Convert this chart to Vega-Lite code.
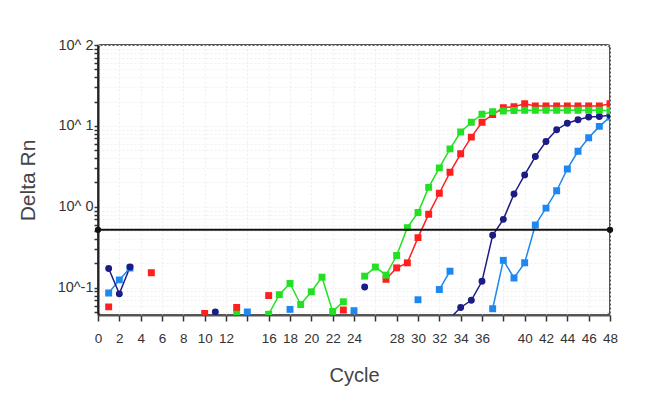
{
  "$schema": "https://vega.github.io/schema/vega-lite/v6.json",
  "width": 512,
  "height": 270,
  "autosize": {"type": "none"},
  "padding": {"left": 98, "top": 45, "right": 40, "bottom": 83},
  "config": {
    "font": "Liberation Sans",
    "view": {"stroke": "#555555", "strokeWidth": 2, "cornerRadius": 3}
  },
  "datasets": {
    "pts": [
      {"series": "lb", "seg": "L1", "cycle": 1, "rn": 0.086},
      {"series": "lb", "seg": "L1", "cycle": 2, "rn": 0.125},
      {"series": "lb", "seg": "L1", "cycle": 3, "rn": 0.175},
      {"series": "lb", "seg": "L2", "cycle": 14, "rn": 0.05},
      {"series": "lb", "seg": "L3", "cycle": 18, "rn": 0.054},
      {"series": "lb", "seg": "L4", "cycle": 24, "rn": 0.052},
      {"series": "lb", "seg": "L5", "cycle": 30, "rn": 0.071},
      {"series": "lb", "seg": "L6", "cycle": 32, "rn": 0.095},
      {"series": "lb", "seg": "L6", "cycle": 33, "rn": 0.16},
      {"series": "lb", "seg": "L7", "cycle": 37, "rn": 0.055},
      {"series": "lb", "seg": "L7", "cycle": 38, "rn": 0.218},
      {"series": "lb", "seg": "L7", "cycle": 39, "rn": 0.132},
      {"series": "lb", "seg": "L7", "cycle": 40, "rn": 0.203},
      {"series": "lb", "seg": "L7", "cycle": 41, "rn": 0.597},
      {"series": "lb", "seg": "L7", "cycle": 42, "rn": 0.963},
      {"series": "lb", "seg": "L7", "cycle": 43, "rn": 1.58},
      {"series": "lb", "seg": "L7", "cycle": 44, "rn": 2.94},
      {"series": "lb", "seg": "L7", "cycle": 45, "rn": 4.86},
      {"series": "lb", "seg": "L7", "cycle": 46, "rn": 7.13},
      {"series": "lb", "seg": "L7", "cycle": 47, "rn": 9.86},
      {"series": "lb", "seg": "L7", "cycle": 48, "rn": 12.9},
      {"series": "navy", "seg": "N1", "cycle": 1, "rn": 0.173},
      {"series": "navy", "seg": "N1", "cycle": 2, "rn": 0.084},
      {"series": "navy", "seg": "N1", "cycle": 3, "rn": 0.18},
      {"series": "navy", "seg": "N2", "cycle": 11, "rn": 0.05},
      {"series": "navy", "seg": "N3", "cycle": 25, "rn": 0.102},
      {"series": "navy", "seg": "N4", "cycle": 33, "rn": 0.042},
      {"series": "navy", "seg": "N4", "cycle": 34, "rn": 0.057},
      {"series": "navy", "seg": "N4", "cycle": 35, "rn": 0.07},
      {"series": "navy", "seg": "N4", "cycle": 36, "rn": 0.12},
      {"series": "navy", "seg": "N4", "cycle": 37, "rn": 0.445},
      {"series": "navy", "seg": "N4", "cycle": 38, "rn": 0.7},
      {"series": "navy", "seg": "N4", "cycle": 39, "rn": 1.44},
      {"series": "navy", "seg": "N4", "cycle": 40, "rn": 2.48},
      {"series": "navy", "seg": "N4", "cycle": 41, "rn": 4.18},
      {"series": "navy", "seg": "N4", "cycle": 42, "rn": 6.42},
      {"series": "navy", "seg": "N4", "cycle": 43, "rn": 8.97},
      {"series": "navy", "seg": "N4", "cycle": 44, "rn": 10.8},
      {"series": "navy", "seg": "N4", "cycle": 45, "rn": 11.9},
      {"series": "navy", "seg": "N4", "cycle": 46, "rn": 12.9},
      {"series": "navy", "seg": "N4", "cycle": 47, "rn": 13.1},
      {"series": "navy", "seg": "N4", "cycle": 48, "rn": 13.5},
      {"series": "red", "seg": "R1", "cycle": 1, "rn": 0.058},
      {"series": "red", "seg": "R2", "cycle": 5, "rn": 0.153},
      {"series": "red", "seg": "R3", "cycle": 10, "rn": 0.048},
      {"series": "red", "seg": "R4", "cycle": 13, "rn": 0.057},
      {"series": "red", "seg": "R5", "cycle": 16, "rn": 0.08},
      {"series": "red", "seg": "R6", "cycle": 23, "rn": 0.053},
      {"series": "red", "seg": "R7", "cycle": 27, "rn": 0.127},
      {"series": "red", "seg": "R7", "cycle": 28, "rn": 0.176},
      {"series": "red", "seg": "R7", "cycle": 29, "rn": 0.203},
      {"series": "red", "seg": "R7", "cycle": 30, "rn": 0.416},
      {"series": "red", "seg": "R7", "cycle": 31, "rn": 0.811},
      {"series": "red", "seg": "R7", "cycle": 32, "rn": 1.47},
      {"series": "red", "seg": "R7", "cycle": 33, "rn": 2.67},
      {"series": "red", "seg": "R7", "cycle": 34, "rn": 4.52},
      {"series": "red", "seg": "R7", "cycle": 35, "rn": 7.26},
      {"series": "red", "seg": "R7", "cycle": 36, "rn": 11.1},
      {"series": "red", "seg": "R7", "cycle": 37, "rn": 13.8},
      {"series": "red", "seg": "R7", "cycle": 38, "rn": 16.8},
      {"series": "red", "seg": "R7", "cycle": 39, "rn": 17.3},
      {"series": "red", "seg": "R7", "cycle": 40, "rn": 18.8},
      {"series": "red", "seg": "R7", "cycle": 41, "rn": 17.6},
      {"series": "red", "seg": "R7", "cycle": 42, "rn": 17.6},
      {"series": "red", "seg": "R7", "cycle": 43, "rn": 17.6},
      {"series": "red", "seg": "R7", "cycle": 44, "rn": 17.6},
      {"series": "red", "seg": "R7", "cycle": 45, "rn": 17.6},
      {"series": "red", "seg": "R7", "cycle": 46, "rn": 17.6},
      {"series": "red", "seg": "R7", "cycle": 47, "rn": 17.6},
      {"series": "red", "seg": "R7", "cycle": 48, "rn": 18.8},
      {"series": "green", "seg": "G1", "cycle": 13, "rn": 0.047},
      {"series": "green", "seg": "G2", "cycle": 16, "rn": 0.047},
      {"series": "green", "seg": "G2", "cycle": 17, "rn": 0.082},
      {"series": "green", "seg": "G2", "cycle": 18, "rn": 0.113},
      {"series": "green", "seg": "G2", "cycle": 19, "rn": 0.062},
      {"series": "green", "seg": "G2", "cycle": 20, "rn": 0.089},
      {"series": "green", "seg": "G2", "cycle": 21, "rn": 0.135},
      {"series": "green", "seg": "G2", "cycle": 22, "rn": 0.051},
      {"series": "green", "seg": "G2", "cycle": 23, "rn": 0.067},
      {"series": "green", "seg": "G3", "cycle": 25, "rn": 0.139},
      {"series": "green", "seg": "G3", "cycle": 26, "rn": 0.18},
      {"series": "green", "seg": "G3", "cycle": 27, "rn": 0.143},
      {"series": "green", "seg": "G3", "cycle": 28, "rn": 0.25},
      {"series": "green", "seg": "G3", "cycle": 29, "rn": 0.553},
      {"series": "green", "seg": "G3", "cycle": 30, "rn": 0.85},
      {"series": "green", "seg": "G3", "cycle": 31, "rn": 1.74},
      {"series": "green", "seg": "G3", "cycle": 32, "rn": 3.03},
      {"series": "green", "seg": "G3", "cycle": 33, "rn": 5.2},
      {"series": "green", "seg": "G3", "cycle": 34, "rn": 8.4},
      {"series": "green", "seg": "G3", "cycle": 35, "rn": 11.1},
      {"series": "green", "seg": "G3", "cycle": 36, "rn": 13.9},
      {"series": "green", "seg": "G3", "cycle": 37, "rn": 15.0},
      {"series": "green", "seg": "G3", "cycle": 38, "rn": 15.3},
      {"series": "green", "seg": "G3", "cycle": 39, "rn": 15.5},
      {"series": "green", "seg": "G3", "cycle": 40, "rn": 15.6},
      {"series": "green", "seg": "G3", "cycle": 41, "rn": 15.6},
      {"series": "green", "seg": "G3", "cycle": 42, "rn": 15.6},
      {"series": "green", "seg": "G3", "cycle": 43, "rn": 15.6},
      {"series": "green", "seg": "G3", "cycle": 44, "rn": 15.6},
      {"series": "green", "seg": "G3", "cycle": 45, "rn": 15.6},
      {"series": "green", "seg": "G3", "cycle": 46, "rn": 15.6},
      {"series": "green", "seg": "G3", "cycle": 47, "rn": 15.6},
      {"series": "green", "seg": "G3", "cycle": 48, "rn": 15.4}
    ],
    "thr": [
      {"cycle": 0, "rn": 0.52},
      {"cycle": 48, "rn": 0.52}
    ]
  },
  "encoding": {
    "x": {
      "field": "cycle", "type": "quantitative",
      "scale": {"domain": [0, 48], "nice": false, "zero": false},
      "axis": {
        "values": [0,2,4,6,8,10,12,14,16,18,20,22,24,26,28,30,32,34,36,38,40,42,44,46,48],
        "labelExpr": "indexof([14,26,38], datum.value) >= 0 ? '' : datum.label",
        "title": "Cycle",
        "titleFontSize": 20, "titleFontWeight": "normal", "titleColor": "#444444",
        "titleY": 60, "titleBaseline": "middle",
        "labelFontSize": 13.5, "labelColor": "#333333", "labelPadding": 10,
        "labelFlush": false, "labelOverlap": false,
        "tickColor": "#333333", "tickSize": 6, "tickWidth": 1.5,
        "domainColor": "#555555", "domainWidth": 2,
        "grid": true, "gridColor": "#ececec", "gridDash": [2, 2]
      }
    },
    "y": {
      "field": "rn", "type": "quantitative",
      "scale": {"type": "log", "domain": [0.046, 100], "nice": false},
      "axis": {
        "values": [0.05,0.06,0.07,0.08,0.09,0.1,0.2,0.3,0.4,0.5,0.6,0.7,0.8,0.9,1,2,3,4,5,6,7,8,9,10,20,30,40,50,60,70,80,90,100],
        "labelExpr": "datum.value == 0.1 ? '10^-1' : datum.value == 1 ? '10^ 0' : datum.value == 10 ? '10^ 1' : datum.value == 100 ? '10^ 2' : ''",
        "title": "Delta Rn",
        "titleFontSize": 21, "titleFontWeight": "normal", "titleColor": "#444444",
        "titleX": -70, "titleY": 135, "titleAngle": 270, "titleBaseline": "middle", "titleAlign": "center",
        "labelFontSize": 14.5, "labelColor": "#333333", "labelPadding": 1,
        "labelOverlap": false, "labelFlush": false,
        "tickColor": "#333333", "tickSize": 4, "tickWidth": 1.5,
        "domainColor": "#222222", "domainWidth": 2,
        "grid": true, "gridColor": "#f0f0f0", "gridDash": [2, 2]
      }
    }
  },
  "layer": [
    {
      "data": {"name": "pts"},
      "mark": {"type": "line", "strokeWidth": 1.5, "clip": true},
      "encoding": {
        "color": {"field": "series", "type": "nominal",
          "scale": {"domain": ["lb", "navy", "red", "green"], "range": ["#1e88f0", "#1c1c85", "#ff1f1f", "#22e022"]},
          "legend": null},
        "detail": {"field": "seg"}
      }
    },
    {
      "data": {"name": "pts"},
      "mark": {"type": "point", "filled": true, "size": 48, "opacity": 1, "clip": true},
      "encoding": {
        "color": {"field": "series", "type": "nominal",
          "scale": {"domain": ["lb", "navy", "red", "green"], "range": ["#1e88f0", "#1c1c85", "#ff1f1f", "#22e022"]},
          "legend": null},
        "shape": {"field": "series", "type": "nominal",
          "scale": {"domain": ["lb", "navy", "red", "green"], "range": ["square", "circle", "square", "square"]},
          "legend": null}
      }
    },
    {
      "data": {"name": "thr"},
      "mark": {"type": "line", "color": "#111111", "strokeWidth": 2},
      "encoding": {}
    },
    {
      "data": {"name": "thr"},
      "mark": {"type": "point", "filled": true, "color": "#111111", "size": 40, "opacity": 1},
      "encoding": {}
    }
  ]
}
